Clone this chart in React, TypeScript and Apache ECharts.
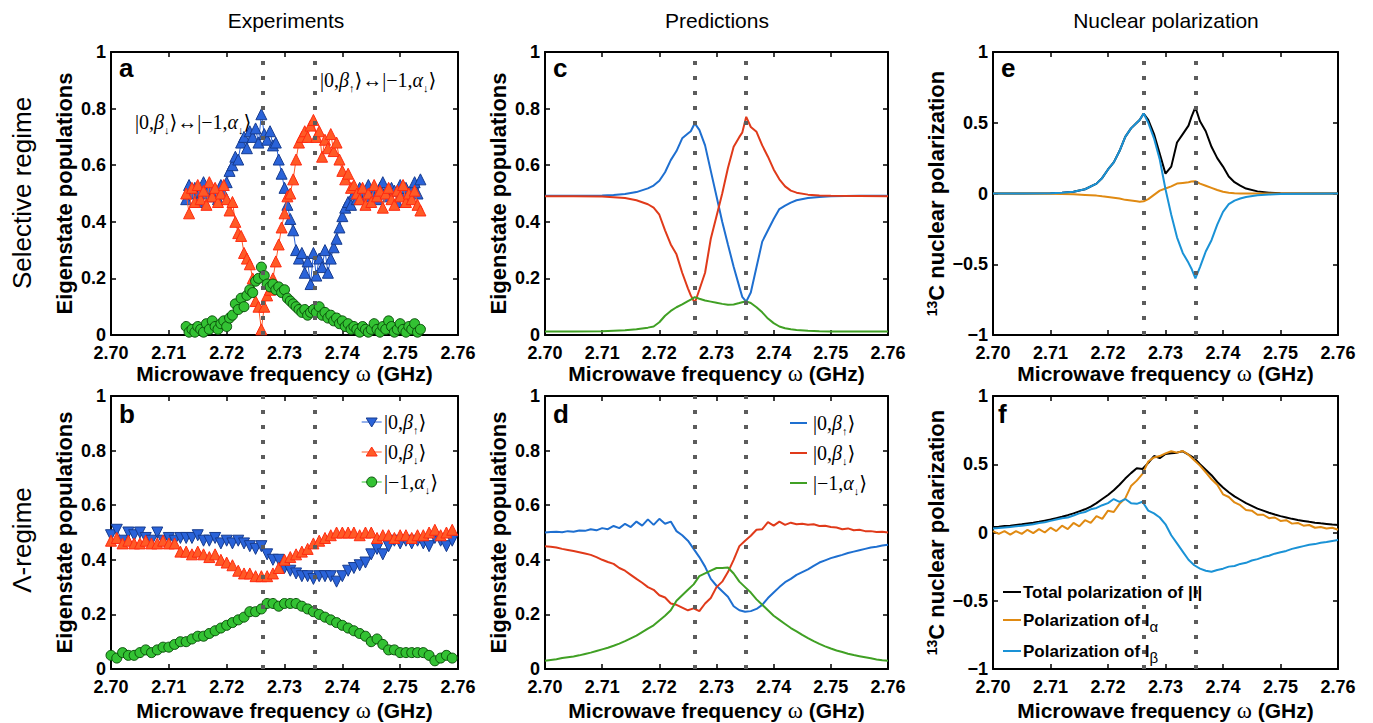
import React, { useEffect, useRef } from "react";
import * as echarts from "echarts";

// ---------------- data ----------------
const resonances = [2.7262, 2.7352];
const xMin = 2.7;
const xMax = 2.76;
const xStep = 0.01;

// panel a : experiments, selective regime
const freqA = [
  2.713, 2.7135, 2.714, 2.7145, 2.715, 2.7155, 2.716, 2.7165, 2.717, 2.7175,
  2.718, 2.7185, 2.719, 2.7195, 2.72, 2.7205, 2.721, 2.7215, 2.722, 2.7225,
  2.723, 2.7235, 2.724, 2.7245, 2.725, 2.7255, 2.726, 2.7265, 2.727, 2.7275,
  2.728, 2.7285, 2.729, 2.7295, 2.73, 2.7305, 2.731, 2.7315, 2.732, 2.7325,
  2.733, 2.7335, 2.734, 2.7345, 2.735, 2.7355, 2.736, 2.7365, 2.737, 2.7375,
  2.738, 2.7385, 2.739, 2.7395, 2.74, 2.7405, 2.741, 2.7415, 2.742, 2.7425,
  2.743, 2.7435, 2.744, 2.7445, 2.745, 2.7455, 2.746, 2.7465, 2.747, 2.7475,
  2.748, 2.7485, 2.749, 2.7495, 2.75, 2.7505, 2.751, 2.7515, 2.752, 2.7525,
  2.753, 2.7535,
];
const betaUpA = [
  0.48, 0.53, 0.5, 0.52, 0.47, 0.51, 0.54, 0.5, 0.52, 0.49,
  0.51, 0.48, 0.53, 0.5, 0.54, 0.58, 0.6, 0.63, 0.62, 0.68,
  0.7, 0.66, 0.72, 0.7, 0.73, 0.68, 0.78, 0.71, 0.69, 0.72,
  0.67, 0.68, 0.62, 0.57, 0.52, 0.46, 0.41, 0.37, 0.3, 0.27,
  0.29, 0.22, 0.26, 0.18, 0.29, 0.21, 0.27, 0.24, 0.3, 0.22,
  0.27, 0.31, 0.34, 0.38, 0.42, 0.45, 0.47, 0.46, 0.5, 0.48,
  0.52, 0.5, 0.49, 0.53, 0.51, 0.5, 0.48, 0.52, 0.54, 0.5,
  0.49, 0.52, 0.51, 0.47, 0.53, 0.5, 0.52, 0.49, 0.51, 0.54,
  0.5, 0.55,
];
const betaDownA = [
  0.5, 0.43, 0.52, 0.47, 0.53, 0.48, 0.51, 0.46, 0.54, 0.49,
  0.52, 0.47, 0.5, 0.53, 0.48, 0.44, 0.47, 0.4, 0.36, 0.35,
  0.29, 0.27, 0.25, 0.2, 0.12, 0.1, 0.02, 0.1, 0.14, 0.16,
  0.2, 0.26, 0.32, 0.38, 0.43, 0.49, 0.5, 0.55, 0.62, 0.68,
  0.7, 0.72, 0.7, 0.74, 0.76, 0.7, 0.72, 0.63, 0.69, 0.66,
  0.71, 0.65, 0.68, 0.62, 0.58, 0.55, 0.57, 0.52, 0.53, 0.5,
  0.48, 0.52, 0.46, 0.5, 0.47, 0.53, 0.49, 0.51, 0.45, 0.5,
  0.52, 0.48, 0.46, 0.51, 0.49, 0.53, 0.47, 0.5, 0.48, 0.51,
  0.46, 0.44,
];
const alphaA = [
  0.03, 0.01, 0.02, 0.01, 0.03, 0.02, 0.01, 0.04, 0.02, 0.05,
  0.03, 0.02, 0.04, 0.05, 0.03, 0.06, 0.07, 0.11, 0.09, 0.13,
  0.1, 0.14, 0.16, 0.15, 0.19, 0.2, 0.24, 0.21, 0.18, 0.17,
  0.18, 0.16, 0.17, 0.15, 0.16, 0.13, 0.12, 0.11, 0.1, 0.09,
  0.08, 0.09, 0.07, 0.08, 0.09, 0.08, 0.1, 0.07, 0.08, 0.06,
  0.07, 0.05, 0.06, 0.04, 0.05, 0.03, 0.04, 0.02, 0.03, 0.02,
  0.01, 0.03, 0.02, 0.01, 0.02, 0.04, 0.02, 0.01, 0.03, 0.02,
  0.05, 0.03, 0.01, 0.02, 0.04, 0.02, 0.01, 0.03, 0.02, 0.04,
  0.01, 0.02,
];

// shared 1 MHz grid
const freq = [
  2.7, 2.701, 2.702, 2.703, 2.704, 2.705, 2.706, 2.707, 2.708, 2.709,
  2.71, 2.711, 2.712, 2.713, 2.714, 2.715, 2.716, 2.717, 2.718, 2.719,
  2.72, 2.721, 2.722, 2.723, 2.724, 2.725, 2.726, 2.727, 2.728, 2.729,
  2.73, 2.731, 2.732, 2.733, 2.734, 2.735, 2.736, 2.737, 2.738, 2.739,
  2.74, 2.741, 2.742, 2.743, 2.744, 2.745, 2.746, 2.747, 2.748, 2.749,
  2.75, 2.751, 2.752, 2.753, 2.754, 2.755, 2.756, 2.757, 2.758, 2.759,
  2.76,
];

// panel b : experiments, Lambda regime (2.700 .. 2.759)
const betaUpB = [
  0.49, 0.51, 0.47, 0.5, 0.49, 0.5, 0.48, 0.47, 0.5, 0.47,
  0.48, 0.47, 0.48, 0.48, 0.48, 0.49, 0.47, 0.47, 0.48, 0.46,
  0.47, 0.46, 0.47, 0.46, 0.45, 0.44, 0.45, 0.42, 0.4, 0.4,
  0.37, 0.36, 0.35, 0.34, 0.34, 0.33, 0.34, 0.34, 0.34, 0.32,
  0.34, 0.36, 0.37, 0.38, 0.39, 0.42, 0.44, 0.42, 0.45, 0.47,
  0.46, 0.47, 0.46, 0.47, 0.46, 0.45, 0.48, 0.47, 0.45, 0.47,
];
const betaDownB = [
  0.47, 0.48, 0.46, 0.47, 0.46, 0.46, 0.47, 0.46, 0.46, 0.47,
  0.46, 0.46, 0.43, 0.43, 0.42, 0.43, 0.42, 0.41, 0.42, 0.4,
  0.39, 0.38, 0.36, 0.35, 0.35, 0.34, 0.34, 0.34, 0.35, 0.37,
  0.4, 0.41, 0.42, 0.43, 0.44, 0.46, 0.47, 0.48, 0.49, 0.5,
  0.5, 0.5, 0.5, 0.49, 0.5, 0.5, 0.48, 0.49, 0.49, 0.48,
  0.49, 0.49, 0.48, 0.49, 0.49, 0.5, 0.51, 0.49, 0.5, 0.51,
];
const alphaB = [
  0.05, 0.04, 0.06, 0.05, 0.05, 0.06, 0.07, 0.06, 0.07, 0.08,
  0.08, 0.09, 0.1, 0.1, 0.11, 0.12, 0.12, 0.13, 0.14, 0.15,
  0.16, 0.17, 0.18, 0.19, 0.21, 0.21, 0.22, 0.24, 0.24, 0.23,
  0.24, 0.24, 0.24, 0.23, 0.22, 0.21, 0.2, 0.19, 0.18, 0.17,
  0.16, 0.15, 0.14, 0.13, 0.12, 0.1, 0.11, 0.09, 0.07, 0.07,
  0.06, 0.06, 0.06, 0.06, 0.06, 0.05, 0.03, 0.04, 0.05, 0.04,
];

// panels c and e : predictions on a non-uniform grid
const freqCE = [
  2.7, 2.705, 2.71, 2.712, 2.714, 2.716, 2.718, 2.719, 2.72, 2.721,
  2.722, 2.723, 2.724, 2.725, 2.7255, 2.7262, 2.727, 2.728, 2.729, 2.73,
  2.731, 2.732, 2.733, 2.734, 2.7345, 2.7352, 2.736, 2.737, 2.738, 2.739,
  2.74, 2.741, 2.742, 2.743, 2.744, 2.746, 2.748, 2.75, 2.755, 2.76,
];
const betaUpC = [
  0.492, 0.492, 0.493, 0.495, 0.498, 0.505, 0.518, 0.528, 0.545, 0.575,
  0.618, 0.65, 0.695, 0.712, 0.72, 0.748, 0.725, 0.67, 0.58, 0.49,
  0.4, 0.32, 0.241, 0.17, 0.135, 0.118, 0.15, 0.24, 0.33, 0.37,
  0.41, 0.445, 0.457, 0.468, 0.476, 0.484, 0.488, 0.49, 0.492, 0.492,
];
const betaDownC = [
  0.49, 0.49, 0.489, 0.487, 0.484, 0.476, 0.462, 0.45, 0.425, 0.37,
  0.32, 0.285, 0.22, 0.165, 0.14, 0.113, 0.16, 0.22, 0.34, 0.42,
  0.5, 0.59, 0.665, 0.7, 0.715, 0.771, 0.735, 0.718, 0.67, 0.63,
  0.585, 0.55, 0.525, 0.51, 0.503, 0.496, 0.493, 0.492, 0.491, 0.49,
];
const alphaC = [
  0.012, 0.012, 0.013, 0.015, 0.017, 0.02, 0.026, 0.03, 0.045, 0.068,
  0.085, 0.098, 0.108, 0.12, 0.125, 0.134, 0.128, 0.122, 0.118, 0.114,
  0.11, 0.107, 0.108, 0.113, 0.116, 0.119, 0.113, 0.098, 0.08, 0.058,
  0.042, 0.03, 0.024, 0.02, 0.018, 0.015, 0.013, 0.012, 0.012, 0.012,
];

// panel d : predictions, Lambda regime (2.700 .. 2.760)
const betaUpD = [
  0.5, 0.502, 0.503, 0.501, 0.505, 0.503, 0.507, 0.506, 0.512, 0.508,
  0.516, 0.512, 0.524, 0.516, 0.532, 0.52, 0.54, 0.525, 0.548, 0.528,
  0.55, 0.532, 0.54, 0.505, 0.49, 0.47, 0.44, 0.41, 0.375, 0.33,
  0.305, 0.285, 0.265, 0.23, 0.215, 0.21, 0.212, 0.22, 0.235, 0.26,
  0.28, 0.3, 0.318, 0.33, 0.345, 0.355, 0.365, 0.378, 0.39, 0.398,
  0.406, 0.412, 0.418, 0.425, 0.43, 0.435, 0.44, 0.445, 0.448, 0.452,
  0.455,
];
const betaDownD = [
  0.45, 0.448, 0.445, 0.44, 0.436, 0.432, 0.428, 0.423, 0.418, 0.41,
  0.4, 0.392, 0.385, 0.37, 0.36, 0.345, 0.33, 0.316, 0.3, 0.29,
  0.27, 0.262, 0.24, 0.235, 0.225, 0.215, 0.222, 0.212, 0.24, 0.26,
  0.3, 0.32, 0.355, 0.4, 0.45, 0.47, 0.488, 0.51, 0.512, 0.538,
  0.525, 0.54, 0.528, 0.536, 0.53, 0.532, 0.528, 0.53, 0.524, 0.525,
  0.52, 0.518, 0.512, 0.515, 0.508, 0.51, 0.505, 0.505, 0.502, 0.503,
  0.5,
];
const alphaD = [
  0.03, 0.033, 0.036, 0.04, 0.043, 0.046, 0.05, 0.055, 0.06, 0.066,
  0.072, 0.078, 0.085, 0.093, 0.102, 0.112, 0.122, 0.135, 0.148, 0.16,
  0.178, 0.195, 0.215, 0.25, 0.27, 0.29, 0.31, 0.34, 0.35, 0.36,
  0.37, 0.37, 0.372, 0.35, 0.32, 0.3, 0.28, 0.255, 0.235, 0.215,
  0.195, 0.18, 0.165, 0.15, 0.138, 0.125, 0.113, 0.102, 0.092, 0.083,
  0.075, 0.068, 0.062, 0.056, 0.051, 0.047, 0.043, 0.039, 0.035, 0.032,
  0.03,
];

// panel e : nuclear polarization, selective regime (grid freqCE)
const totalE = [
  0, 0, 0.002, 0.005, 0.012, 0.03, 0.07, 0.11, 0.17, 0.22,
  0.3, 0.4, 0.46, 0.5, 0.52, 0.565, 0.52, 0.42, 0.28, 0.14,
  0.19, 0.36, 0.42, 0.48, 0.54, 0.61, 0.51, 0.44, 0.33, 0.25,
  0.19, 0.12, 0.08, 0.055, 0.035, 0.015, 0.006, 0.002, 0, 0,
];
const iAlphaE = [
  0, 0, -0.002, -0.004, -0.006, -0.01, -0.015, -0.02, -0.024, -0.03,
  -0.036, -0.045, -0.05, -0.055, -0.058, -0.055, -0.04, -0.01, 0.02, 0.035,
  0.05, 0.07, 0.075, 0.08, 0.085, 0.087, 0.07, 0.055, 0.04, 0.025,
  0.012, 0.006, 0.002, 0, 0, 0, 0, 0, 0, 0,
];
const iBetaE = [
  0, 0, 0.002, 0.005, 0.012, 0.03, 0.07, 0.11, 0.17, 0.22,
  0.3, 0.4, 0.46, 0.5, 0.52, 0.565, 0.5, 0.39, 0.24, 0.03,
  -0.15, -0.31, -0.42, -0.49, -0.53, -0.6, -0.52, -0.41, -0.33, -0.22,
  -0.13, -0.075, -0.05, -0.035, -0.025, -0.012, -0.007, -0.004, -0.001, 0,
];

// panel f : nuclear polarization, Lambda regime (grid freq)
const totalF = [
  0.04, 0.043, 0.047, 0.05, 0.055, 0.06, 0.066, 0.072, 0.079, 0.087,
  0.095, 0.105, 0.115, 0.127, 0.14, 0.155, 0.17, 0.19, 0.215, 0.245,
  0.275, 0.31, 0.35, 0.395, 0.435, 0.47, 0.465, 0.51, 0.56, 0.545,
  0.575, 0.58, 0.585, 0.595, 0.57, 0.545, 0.5, 0.46, 0.42, 0.37,
  0.33, 0.295, 0.265, 0.24, 0.215, 0.195, 0.175, 0.16, 0.145, 0.132,
  0.12, 0.11, 0.1, 0.092, 0.085, 0.078, 0.072, 0.067, 0.063, 0.058,
  0.055,
];
const iAlphaF = [
  0.01, -0.01, 0.01, -0.015, 0.01, -0.01, 0.02, -0.005, 0.025, 0,
  0.035, 0.01, 0.05, 0.025, 0.07, 0.045, 0.09, 0.07, 0.12, 0.1,
  0.16, 0.15, 0.21, 0.25, 0.34, 0.38, 0.43, 0.52, 0.55, 0.56,
  0.58, 0.595, 0.585, 0.597, 0.57, 0.53, 0.49, 0.44, 0.39, 0.35,
  0.28, 0.26, 0.22, 0.2, 0.165, 0.16, 0.13, 0.13, 0.105, 0.11,
  0.085, 0.09, 0.065, 0.07, 0.05, 0.055, 0.035, 0.04, 0.03, 0.035,
  0.02,
];
const iBetaF = [
  0.03, 0.033, 0.037, 0.04, 0.045, 0.05, 0.055, 0.06, 0.07, 0.075,
  0.085, 0.095, 0.105, 0.11, 0.125, 0.14, 0.15, 0.17, 0.18, 0.2,
  0.215, 0.245, 0.225, 0.245, 0.215, 0.21, 0.225, 0.16, 0.14, 0.11,
  0.06, -0.02, -0.08, -0.14, -0.2, -0.24, -0.265, -0.28, -0.288, -0.275,
  -0.265, -0.25, -0.245, -0.23, -0.222, -0.205, -0.195, -0.18, -0.17, -0.155,
  -0.145, -0.135, -0.12, -0.11, -0.1, -0.09, -0.085, -0.075, -0.07, -0.062,
  -0.055,
];

// ---------------- text ----------------
const columnTitles = ["Experiments", "Predictions", "Nuclear polarization"];
const rowTitles = ["Selective regime", "Λ-regime"];
const panelLetters = ["a", "c", "e", "b", "d", "f"];
const xAxisName = "Microwave frequency {w|ω} (GHz)";
const popAxisName = "Eigenstate populations";
const polAxisName = "{sup|13}C nuclear polarization";
const polLegend = [
  "{t|Total polarization of |I|}",
  "{t|Polarization of I}{sub|α}",
  "{t|Polarization of I}{sub|β}",
];

// ---------------- styles ----------------
const FONT = "Liberation Sans, Arial, Helvetica, sans-serif";
const SERIF = "Liberation Serif, DejaVu Serif, Times New Roman, serif";
const C = {
  expBlue: "#2a63d9", expBlueEdge: "#173c8f",
  expRed: "#ff5a26", expRedEdge: "#ff2a10",
  expGreen: "#33c233", expGreenEdge: "#0b520b",
  blue: "#1e6fd0", red: "#e03a1a", green: "#40a024",
  black: "#000000", orange: "#e08a12", cyan: "#1a92d6",
  dots: "#5c5c5c",
};

const ket = (n: string, g: string, arrow: string) =>
  `{n||${n},}{g|${g}}{s|${arrow}}{n|⟩}`;
const ketRich = {
  n: { fontFamily: SERIF, fontSize: 20, lineHeight: 26, color: "#000" },
  g: { fontFamily: SERIF, fontSize: 20, fontStyle: "italic", lineHeight: 26, color: "#000" },
  s: { fontFamily: SERIF, fontSize: 11, lineHeight: 11, verticalAlign: "bottom", color: "#000" },
};

// layout boxes (px)
const boxes = [
  { left: 111, top: 52, width: 347, height: 283 }, // a
  { left: 545, top: 52, width: 343, height: 283 }, // c
  { left: 993, top: 52, width: 345, height: 283 }, // e
  { left: 111, top: 396, width: 347, height: 278 }, // b
  { left: 545, top: 396, width: 343, height: 279 }, // d
  { left: 993, top: 396, width: 345, height: 280 }, // f
];

const pairs = (xs: number[], ys: number[]) => ys.map((y, i) => [xs[i], y]);

function markerSeries(xs: number[], ys: number[], shape: string, fill: string, edge: string, rotate = 0, size = 11) {
  return {
    type: "line",
    data: pairs(xs, ys),
    symbol: shape,
    symbolRotate: rotate,
    symbolSize: size,
    showSymbol: true,
    itemStyle: { color: fill, borderColor: edge, borderWidth: 1 },
    lineStyle: { color: fill, width: 1 },
    emphasis: { disabled: true },
  };
}
function curve(xs: number[], ys: number[], color: string) {
  return {
    type: "line",
    data: pairs(xs, ys),
    symbol: "none",
    lineStyle: { color, width: 2 },
    emphasis: { disabled: true },
  };
}

const panelSeries: any[][] = [
  [
    markerSeries(freqA, betaUpA, "triangle", C.expBlue, C.expBlueEdge),
    markerSeries(freqA, betaDownA, "triangle", C.expRed, C.expRedEdge),
    markerSeries(freqA, alphaA, "circle", C.expGreen, C.expGreenEdge, 0, 10),
  ],
  [curve(freqCE, betaUpC, C.blue), curve(freqCE, betaDownC, C.red), curve(freqCE, alphaC, C.green)],
  [curve(freqCE, totalE, C.black), curve(freqCE, iAlphaE, C.orange), curve(freqCE, iBetaE, C.cyan)],
  [
    markerSeries(freq, betaUpB, "triangle", C.expBlue, C.expBlueEdge, 180),
    markerSeries(freq, betaDownB, "triangle", C.expRed, C.expRedEdge),
    markerSeries(freq, alphaB, "circle", C.expGreen, C.expGreenEdge, 0, 10),
  ],
  [curve(freq, betaUpD, C.blue), curve(freq, betaDownD, C.red), curve(freq, alphaD, C.green)],
  [curve(freq, totalF, C.black), curve(freq, iAlphaF, C.orange), curve(freq, iBetaF, C.cyan)],
];

function buildOption() {
  const grid: any[] = [];
  const xAxis: any[] = [];
  const yAxis: any[] = [];
  const series: any[] = [];
  const axisLine = { show: true, onZero: false, lineStyle: { color: "#000", width: 2 } };
  const axisTick = { show: true, inside: true, length: 5, lineStyle: { color: "#000", width: 1.5 } };
  const labelStyle = { fontSize: 18, fontWeight: "bold", color: "#000", fontFamily: FONT, lineHeight: 15 };

  boxes.forEach((b, i) => {
    const pol = i === 2 || i === 5;
    const bottomRow = i >= 3;
    grid.push({ ...b, containLabel: false });
    xAxis.push({
      type: "value", gridIndex: i, position: "bottom", min: xMin, max: xMax, interval: xStep,
      axisLine, axisTick, splitLine: { show: false },
      axisLabel: { ...labelStyle, margin: 10, formatter: (v: number) => v.toFixed(2) },
      name: xAxisName, nameLocation: "middle", nameGap: bottomRow ? 30 : 27,
      nameTextStyle: {
        fontSize: 21, fontWeight: "bold", color: "#000", fontFamily: FONT,
        rich: { w: { fontFamily: SERIF, fontSize: 23, fontWeight: "normal", color: "#000" } },
      },
    });
    xAxis.push({
      type: "value", gridIndex: i, position: "top", min: xMin, max: xMax, interval: xStep,
      axisLine, axisTick, splitLine: { show: false }, axisLabel: { show: false },
    });
    const yBase = pol
      ? { min: -1, max: 1, interval: 0.5 }
      : { min: 0, max: 1, interval: 0.2 };
    yAxis.push({
      type: "value", gridIndex: i, position: "left", ...yBase,
      axisLine, axisTick, splitLine: { show: false },
      axisLabel: {
        ...labelStyle, margin: 5,
        formatter: (v: number) => (v < 0 ? "−" + String(-v) : String(v)),
      },
      name: pol ? polAxisName : popAxisName, nameLocation: "middle", nameGap: pol ? 43 : 35,
      nameTextStyle: {
        fontSize: 22, fontWeight: "bold", color: "#000", fontFamily: FONT, lineHeight: 24,
        rich: { sup: { fontSize: 14, fontWeight: "bold", lineHeight: 14, verticalAlign: "top", color: "#000", fontFamily: FONT } },
      },
    });
    yAxis.push({
      type: "value", gridIndex: i, position: "right", ...yBase,
      axisLine, axisTick, splitLine: { show: false }, axisLabel: { show: false },
    });
    const list = panelSeries[i];
    list.forEach((s, k) => {
      const last = k === list.length - 1;
      series.push({
        ...s,
        xAxisIndex: 2 * i,
        yAxisIndex: 2 * i,
        z: 2 + k,
        markLine: last
          ? {
              silent: true, symbol: "none", precision: 5, label: { show: false },
              lineStyle: { type: [4, 11], width: 4, color: C.dots, cap: "butt" },
              emphasis: { disabled: true },
              data: resonances.map((r) => ({ xAxis: r })),
            }
          : undefined,
      });
    });
  });

  const g: any[] = [];
  const txt = (x: number, y: number, style: any, extra: any = {}) =>
    g.push({ type: "text", x, y, z: 100, ...extra, style: { fill: "#000", verticalAlign: "middle", textVerticalAlign: "middle", ...style } });

  const titleX = [286, 717, 1166];
  columnTitles.forEach((t, i) => txt(titleX[i], 20, { text: t, fontSize: 21, fontFamily: FONT, textAlign: "center", align: "center" }));
  const rowY = [193, 540];
  rowTitles.forEach((t, i) =>
    txt(22, rowY[i], { text: t, fontSize: 26, fontFamily: FONT, textAlign: "center", align: "center" }, { rotation: Math.PI / 2 })
  );
  panelLetters.forEach((l, i) => {
    const b = boxes[i];
    txt(b.left + (l === "f" ? 5 : 8), b.top + (i < 3 ? 16 : 18), { text: l, fontSize: 26, fontWeight: "bold", fontFamily: FONT, textAlign: "left", align: "left" });
  });

  // panel a annotations
  txt(320, 80, { text: `${ket("0", "β", "↑")}{n|↔}${ket("−1", "α", "↓")}`, rich: ketRich, textAlign: "left", align: "left" });
  txt(135, 122, { text: `${ket("0", "β", "↓")}{n|↔}${ket("−1", "α", "↓")}`, rich: ketRich, textAlign: "left", align: "left" });

  // legend b
  const kets = [ket("0", "β", "↑"), ket("0", "β", "↓"), ket("−1", "α", "↓")];
  const legBY = [422, 452, 482];
  const lbx = 371.7;
  const expCols = [
    [C.expBlue, C.expBlueEdge],
    [C.expRed, C.expRedEdge],
    [C.expGreen, C.expGreenEdge],
  ];
  legBY.forEach((y, i) => {
    g.push({ type: "line", z: 100, shape: { x1: lbx - 10, y1: y, x2: lbx + 10, y2: y }, style: { stroke: expCols[i][0], lineWidth: 1 } });
    if (i === 2) {
      g.push({ type: "circle", z: 101, shape: { cx: lbx, cy: y, r: 5 }, style: { fill: expCols[i][0], stroke: expCols[i][1], lineWidth: 1 } });
    } else {
      const d = i === 0 ? 1 : -1;
      g.push({
        type: "polygon", z: 101,
        shape: { points: [[lbx - 5.5, y - 4 * d], [lbx + 5.5, y - 4 * d], [lbx, y + 5 * d]] },
        style: { fill: expCols[i][0], stroke: expCols[i][1], lineWidth: 1 },
      });
    }
    txt(384, y, { text: kets[i], rich: ketRich, textAlign: "left", align: "left" });
  });

  // legend d
  const legDY = [423, 453, 483];
  const predCols = [C.blue, C.red, C.green];
  legDY.forEach((y, i) => {
    g.push({ type: "line", z: 100, shape: { x1: 790, y1: y, x2: 807, y2: y }, style: { stroke: predCols[i], lineWidth: 2 } });
    txt(813, y, { text: kets[i], rich: ketRich, textAlign: "left", align: "left" });
  });

  // legend f
  const legFY = [592, 620, 651];
  const polCols = [C.black, C.orange, C.cyan];
  const polRich = {
    t: { fontSize: 17, fontWeight: "bold", fontFamily: FONT, lineHeight: 28, color: "#000" },
    sub: { fontSize: 15, fontFamily: FONT, lineHeight: 14, verticalAlign: "bottom", color: "#000" },
  };
  legFY.forEach((y, i) => {
    g.push({ type: "line", z: 100, shape: { x1: 1003, y1: y, x2: 1021, y2: y }, style: { stroke: polCols[i], lineWidth: 2 } });
    txt(1023, y, { text: polLegend[i], rich: polRich, textAlign: "left", align: "left" });
  });

  return {
    animation: false,
    backgroundColor: "#ffffff",
    textStyle: { fontFamily: FONT },
    grid, xAxis, yAxis, series,
    graphic: { elements: g },
  };
}

export default function App() {
  const ref = useRef<HTMLDivElement>(null);
  useEffect(() => {
    if (!ref.current) return;
    const chart = echarts.init(ref.current, null, { renderer: "svg" });
    chart.setOption(buildOption() as any);
    return () => chart.dispose();
  }, []);
  return (
    <div
      ref={ref}
      style={{ position: "absolute", left: 0, top: 0, width: 1373, height: 723, background: "#fff" }}
    />
  );
}
